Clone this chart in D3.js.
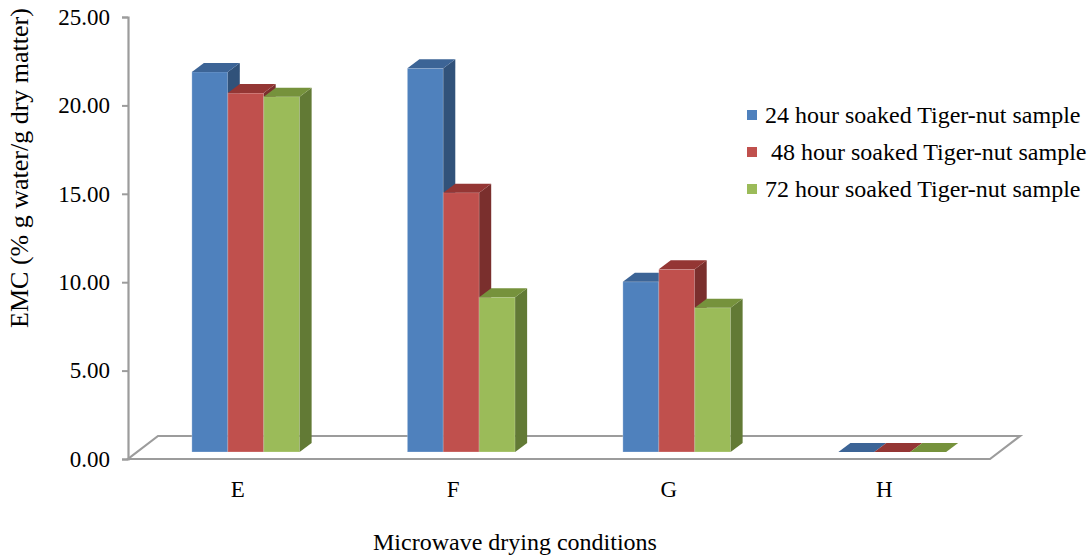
<!DOCTYPE html>
<html>
<head>
<meta charset="utf-8">
<script src="https://cdn.jsdelivr.net/npm/d3@7"></script>
<style>
  html, body { margin: 0; padding: 0; background: #fff; }
  svg { display: block; }
  text { white-space: pre; }
</style>
</head>
<body>
<svg id="chart" width="1089" height="557"></svg>
<script>
// Equilibrium moisture content by microwave drying condition
const categories = ["E", "F", "G", "H"];
const seriesNames = ["24 hour soaked Tiger-nut sample", " 48 hour soaked Tiger-nut sample", "72 hour soaked Tiger-nut sample"];
const soak24 = [21.5, 21.7, 9.63, 0];
const soak48 = [20.3, 14.67, 10.33, 0];
const soak72 = [20.1, 8.75, 8.16, 0];
const yTicks = [0, 5, 10, 15, 20, 25];

const seriesValues = [soak24, soak48, soak72];
const frontColors = ["#4F81BD", "#C0504D", "#9BBB59"];
const topColors = ["#3C6496", "#943634", "#76923C"];
const sideColors = ["#31527A", "#7A2F2D", "#627A35"];

const FONT = "'Liberation Serif', 'Times New Roman', serif";
const svg = d3.select("#chart");

// front plane of the floor
const x0 = 128, x1 = 990, yBase = 459, yTop = 17;
// depth of the whole floor and of the bars (oblique projection)
const floorDx = 30, floorDy = -23;
const barShiftX = 10, barShiftY = -7;   // bars sit partway back on the floor
const barDx = 12, barDy = -9;           // bar depth

const x = d3.scaleBand().domain(categories).range([x0, x1]).padding(0);
const xs = d3.scaleBand().domain(d3.range(seriesNames.length))
  .range([x.bandwidth() * 0.25, x.bandwidth() * 0.75]).padding(0);
const y = d3.scaleLinear().domain([0, 25]).range([yBase, yTop]);

const grey = "#9C9C9C";

// floor
svg.append("path")
  .attr("d", `M${x0},${yBase} L${x1},${yBase} L${x1 + floorDx},${yBase + floorDy} L${x0 + floorDx},${yBase + floorDy} Z`)
  .attr("fill", "#fff").attr("stroke", grey).attr("stroke-width", 2.2)
  .attr("stroke-linejoin", "miter");

// value axis
const yAxis = d3.axisLeft(y).tickValues(yTicks).tickSize(6).tickPadding(12)
  .tickFormat(d3.format(".2f"));
const gy = svg.append("g").attr("transform", `translate(${x0},0)`).call(yAxis);
gy.select(".domain").attr("stroke", grey).attr("stroke-width", 2.2);
gy.selectAll(".tick line").attr("stroke", grey).attr("stroke-width", 2);
gy.selectAll(".tick text").style("font-family", FONT).style("font-size", "23px")
  .attr("fill", "#000");

// bars, drawn left to right so each right neighbour covers the side face
const bars = svg.append("g");
categories.forEach((c, ci) => {
  seriesValues.forEach((vals, si) => {
    const v = vals[ci];
    const bx = x(c) + xs(si) + barShiftX;
    const bw = xs.bandwidth();
    const by0 = y(0) + barShiftY;
    const by1 = y(v) + barShiftY;
    const g = bars.append("g");
    if (v > 0) {
      // front face
      g.append("rect").attr("x", bx).attr("y", by1).attr("width", bw).attr("height", by0 - by1)
        .attr("fill", frontColors[si]).attr("stroke", "rgba(255,255,255,0.25)").attr("stroke-width", 1);
      // side face
      g.append("path")
        .attr("d", `M${bx + bw},${by1} L${bx + bw + barDx},${by1 + barDy} L${bx + bw + barDx},${by0 + barDy} L${bx + bw},${by0} Z`)
        .attr("fill", sideColors[si]);
    }
    // top face
    g.append("path")
      .attr("d", `M${bx},${by1} L${bx + barDx},${by1 + barDy} L${bx + bw + barDx},${by1 + barDy} L${bx + bw},${by1} Z`)
      .attr("fill", topColors[si]);
  });
});

// category labels
svg.append("g").selectAll("text").data(categories).join("text")
  .attr("x", d => x(d) + x.bandwidth() / 2 + 2)
  .attr("y", 497)
  .attr("text-anchor", "middle")
  .style("font-family", FONT).style("font-size", "23px").attr("fill", "#000")
  .text(d => d);

// axis titles
svg.append("text").attr("x", 515).attr("y", 550).attr("text-anchor", "middle")
  .style("font-family", FONT).style("font-size", "24px").attr("fill", "#000")
  .text("Microwave drying conditions");
svg.append("text").attr("transform", "translate(28,168) rotate(-90)").attr("text-anchor", "middle")
  .style("font-family", FONT).style("font-size", "26px").attr("fill", "#000")
  .text("EMC (% g water/g dry matter)");

// legend
const legend = svg.append("g").attr("transform", "translate(747,115)");
const rowGap = 37;
seriesNames.forEach((name, i) => {
  legend.append("rect").attr("x", 0).attr("y", i * rowGap - 5).attr("width", 10).attr("height", 10)
    .attr("fill", frontColors[i]);
  legend.append("text").attr("x", 18).attr("y", i * rowGap + 8)
    .style("font-family", FONT).style("font-size", "24px").attr("fill", "#000").text(name);
});
</script>
</body>
</html>
